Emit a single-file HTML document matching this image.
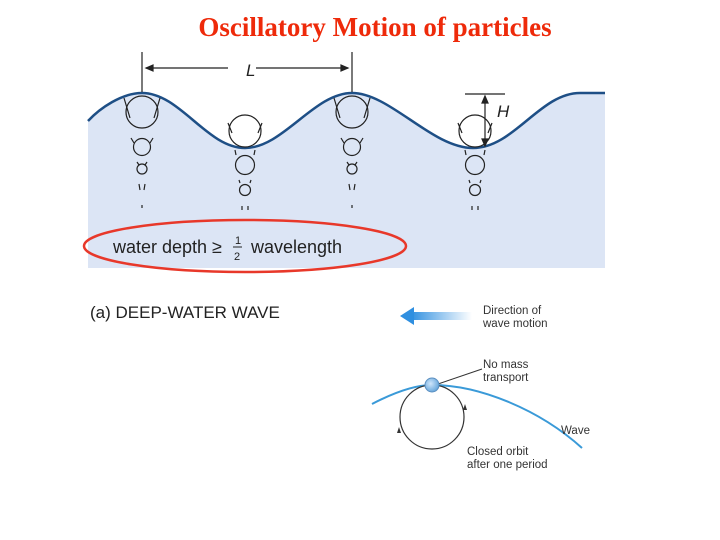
<!DOCTYPE html>
<html><head><meta charset="utf-8"><style>
body{margin:0;background:#fff;width:720px;height:540px;overflow:hidden}
svg{display:block}
</style></head><body>
<svg width="720" height="540" viewBox="0 0 720 540" xmlns="http://www.w3.org/2000/svg" font-family="Liberation Sans, sans-serif">
<defs>
<linearGradient id="ag" x1="0" x2="1"><stop offset="0" stop-color="#2f8fe0"/><stop offset="1" stop-color="#2f8fe0" stop-opacity="0"/></linearGradient>
<radialGradient id="bg" cx="0.4" cy="0.4" r="0.6"><stop offset="0" stop-color="#cfe6fb"/><stop offset="1" stop-color="#6aa8dc"/></radialGradient>
</defs>
<text x="375" y="36" text-anchor="middle" font-family="Liberation Serif, serif" font-weight="bold" font-size="27" fill="#ee2a0a">Oscillatory Motion of particles</text>
<path d="M88,121 C100,108 122,93 142,93 C180,93 207,148 245,148 C283,148 314,93 352,93 C390,93 432,148 473,148 C514,148 540,93 580,93 L605,93 L605,268 L88,268 Z" fill="#dce5f5"/>
<path d="M88,121 C100,108 122,93 142,93 C180,93 207,148 245,148 C283,148 314,93 352,93 C390,93 432,148 473,148 C514,148 540,93 580,93 L605,93" fill="none" stroke="#1e4f86" stroke-width="2.5"/>
<g stroke="#222" stroke-width="1.2" fill="none">
<line x1="142" y1="52" x2="142" y2="92"/><line x1="352" y1="52" x2="352" y2="92"/>
<line x1="146" y1="68" x2="228" y2="68"/><line x1="256" y1="68" x2="348" y2="68"/>
<path d="M146,68 l7,-3 v6z M348,68 l-7,-3 v6z" fill="#222"/>
<line x1="465" y1="94" x2="505" y2="94"/><line x1="485" y1="98" x2="485" y2="144"/>
<path d="M485,96 l-3,7 h6z M485,146 l-3,-7 h6z" fill="#222"/>
<g id="c1"><circle cx="142" cy="112" r="16"/><circle cx="142" cy="147" r="8.5"/><circle cx="142" cy="169" r="5"/>
<path d="M124,98 l6,20 M160,98 l-6,20 M131,138 l3,5 M153,138 l-3,5 M137,162 l2,3 M147,162 l-2,3 M139,184 l1,6 M145,184 l-1,6 M142,205 v3"/></g>
<use href="#c1" x="210"/>
<g id="t1"><circle cx="245" cy="131" r="16"/><circle cx="245" cy="165" r="9.5"/><circle cx="245" cy="190" r="5.5"/>
<path d="M228,123 l4,10 M262,123 l-4,10 M235,150 l1,5 M255,150 l-1,5 M239,180 l1,3 M251,180 l-1,3 M242,206 v4 M248,206 v4"/></g>
<use href="#t1" x="230"/>
</g>
<text x="246" y="76" font-size="17" font-style="italic" fill="#222">L</text>
<text x="497" y="117" font-size="17" font-style="italic" fill="#222">H</text>
<ellipse cx="245" cy="246" rx="161" ry="26" fill="none" stroke="#e8382a" stroke-width="2.5"/>
<text x="113" y="253" font-size="18" fill="#222">water depth ≥</text>
<text x="235" y="244" font-size="11" fill="#222">1</text>
<line x1="233" y1="247" x2="242" y2="247" stroke="#222"/>
<text x="234" y="260" font-size="11" fill="#222">2</text>
<text x="251" y="253" font-size="18" fill="#222">wavelength</text>
<text x="90" y="318" font-size="17" fill="#222">(a) DEEP-WATER WAVE</text>
<rect x="410" y="312" width="62" height="8" fill="url(#ag)"/>
<path d="M400,316 l14,-9 v18z" fill="#2f8fe0"/>
<text x="483" y="314" font-size="11.5" fill="#333">Direction of</text>
<text x="483" y="327" font-size="11.5" fill="#333">wave motion</text>
<path d="M372,404 C395,392 415,385 432,385 C480,385 540,410 582,448" fill="none" stroke="#3a9ad8" stroke-width="2"/>
<circle cx="432" cy="417" r="32" fill="none" stroke="#333" stroke-width="1.2"/>
<path d="M397,433 l2,-6 l2,6z M467,410 l-2,-6 l-2,6z" fill="#333"/>
<line x1="438" y1="384" x2="482" y2="369" stroke="#333"/>
<circle cx="432" cy="385" r="7" fill="url(#bg)" stroke="#5b8fc0"/>
<text x="483" y="368" font-size="11.5" fill="#333">No mass</text>
<text x="483" y="381" font-size="11.5" fill="#333">transport</text>
<text x="561" y="434" font-size="11.5" fill="#333">Wave</text>
<text x="467" y="455" font-size="11.5" fill="#333">Closed orbit</text>
<text x="467" y="468" font-size="11.5" fill="#333">after one period</text>
</svg>
</body></html>
